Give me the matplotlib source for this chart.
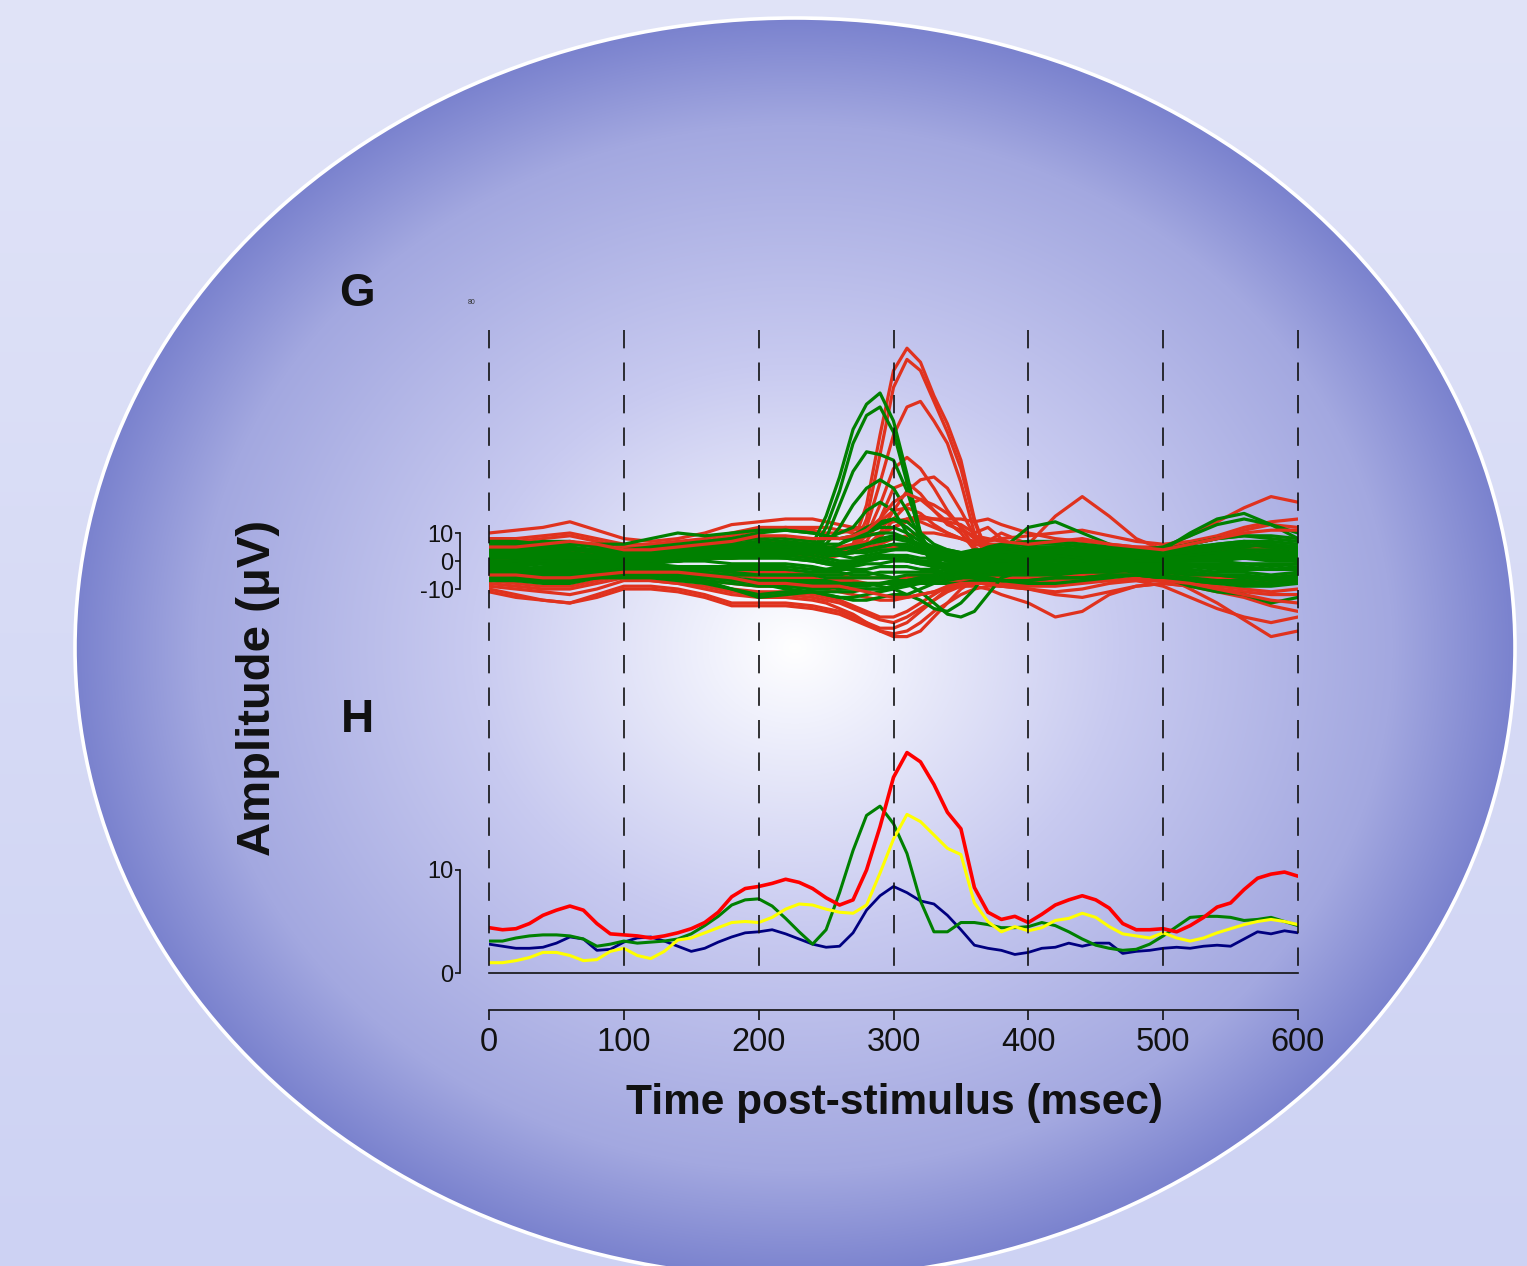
import numpy as np
import matplotlib
matplotlib.use('Agg')
import matplotlib.pyplot as plt
from matplotlib.patches import Ellipse

# ---------------- data ----------------
# Panel H: summary traces, 10 ms steps
t_h = list(range(0, 601, 10))
h_red = [4.4, 4.2, 4.3, 4.8, 5.6, 6.1, 6.5, 6.1, 4.8, 3.8, 3.7, 3.6, 3.4, 3.6, 3.9, 4.3, 4.9, 5.9, 7.4, 8.2,
         8.4, 8.7, 9.1, 8.8, 8.2, 7.3, 6.6, 7.1, 10.0, 14.2, 19.0, 21.4, 20.5, 18.3, 15.6, 14.0, 8.3, 5.9, 5.2, 5.5,
         4.9, 5.7, 6.6, 7.1, 7.5, 7.1, 6.3, 4.8, 4.2, 4.2, 4.3, 4.0, 4.6, 5.4, 6.4, 6.8, 8.1, 9.2, 9.6, 9.8, 9.4]
h_green = [3.1, 3.1, 3.4, 3.6, 3.7, 3.7, 3.6, 3.3, 2.6, 2.8, 3.1, 2.9, 3.0, 3.1, 3.3, 3.8, 4.6, 5.5, 6.6, 7.1,
           7.2, 6.5, 5.3, 4.0, 2.8, 4.2, 7.8, 11.9, 15.3, 16.2, 14.5, 11.6, 7.0, 4.0, 4.0, 4.9, 4.9, 4.7, 4.4, 4.4,
           4.5, 4.9, 4.6, 4.0, 3.3, 2.7, 2.4, 2.2, 2.3, 2.8, 3.6, 4.5, 5.4, 5.5, 5.5, 5.4, 5.1, 5.2, 5.4, 5.0, 4.6]
h_yellow = [1.0, 1.0, 1.2, 1.5, 2.0, 2.0, 1.7, 1.2, 1.3, 2.1, 2.4, 1.7, 1.4, 2.1, 3.2, 3.4, 3.9, 4.4, 4.9, 5.0,
            4.9, 5.4, 6.2, 6.7, 6.6, 6.2, 5.9, 5.8, 6.6, 9.7, 13.0, 15.4, 14.7, 13.4, 12.1, 11.5, 6.8, 5.0, 4.0, 4.5,
            4.1, 4.4, 5.1, 5.3, 5.8, 5.4, 4.5, 3.8, 3.6, 3.4, 3.9, 3.4, 3.1, 3.4, 3.9, 4.3, 4.7, 5.0, 5.2, 5.0, 4.7]
h_navy = [2.8, 2.6, 2.4, 2.4, 2.5, 2.9, 3.5, 3.3, 2.2, 2.3, 3.0, 3.4, 3.5, 3.1, 2.6, 2.1, 2.4, 3.0, 3.5, 3.9,
          4.0, 4.2, 3.8, 3.3, 2.8, 2.5, 2.6, 3.9, 6.1, 7.5, 8.4, 7.8, 7.0, 6.7, 5.6, 4.2, 2.7, 2.4, 2.2, 1.8,
          2.0, 2.4, 2.5, 2.9, 2.6, 2.9, 2.9, 1.9, 2.1, 2.2, 2.4, 2.5, 2.4, 2.6, 2.7, 2.6, 3.3, 4.0, 3.8, 4.1, 3.9]

# Panel G: butterfly traces (µV)
t_g = [0, 20, 40, 60, 80, 100, 120, 140, 160, 180, 200, 220, 240,
       250, 260, 270, 280, 290, 300, 310, 320, 330, 340, 350, 360, 370,
       380, 400, 420, 440, 460, 480, 500, 520, 540, 560, 580, 600]

g_red = [
    [3, 4, 5, 4, 2, 1, 2, 3, 4, 5, 6, 5, 3, 2, 3, 6, 20, 45, 68, 76, 71, 59, 49, 36, 15, 2, -2, 0, 2, 1, -1, 0, 1, 2, 3, 2, 1, 0],
    [-2, -1, 0, 1, 0, -1, 0, 1, 2, 3, 4, 3, 2, 1, 2, 4, 15, 38, 62, 72, 68, 57, 46, 33, 14, 2, -1, 1, 2, 1, 0, -1, 0, 1, 2, 2, 1, 0],
    [1, 1, 2, 2, 1, 1, 1, 2, 3, 4, 5, 4, 3, 2, 3, 4, 12, 28, 45, 55, 57, 50, 42, 28, 10, 0, -2, 0, 1, 1, 0, 0, 1, 2, 2, 1, 1, 0],
    [0, 1, 1, 1, 0, 0, 1, 1, 2, 2, 3, 3, 2, 2, 3, 5, 9, 20, 33, 37, 33, 26, 18, 12, 5, 2, 1, 1, 2, 1, 0, 0, 0, 1, 2, 2, 1, 1],
    [4, 4, 5, 5, 3, 2, 3, 4, 5, 6, 7, 7, 6, 5, 5, 6, 7, 15, 26, 28, 24, 18, 14, 10, 4, 2, 1, 2, 3, 3, 2, 2, 2, 3, 4, 4, 3, 3],
    [2, 2, 3, 3, 2, 1, 1, 2, 3, 4, 5, 5, 4, 4, 4, 5, 6, 8, 15, 20, 22, 20, 17, 12, 8, 7, 10, 6, 3, 2, 2, 2, 2, 3, 4, 4, 4, 3],
    [-1, -1, 0, 0, -1, -1, 0, 0, 1, 1, 2, 2, 2, 3, 3, 4, 6, 9, 12, 15, 16, 15, 14, 13, 10, 12, 8, 3, 1, 0, 0, 0, 0, 1, 2, 2, 2, 1],
    [-8, -9, -10, -10, -8, -6, -7, -8, -10, -12, -13, -13, -14, -15, -17, -19, -22, -25, -27, -27, -25, -20, -15, -10, -7, -5, -5, -5, -4, -3, -3, -4, -5, -6, -7, -7, -7, -6],
    [-10, -12, -14, -15, -12, -9, -9, -10, -12, -15, -15, -15, -16, -17, -18, -20, -22, -24, -24, -22, -18, -14, -10, -8, -7, -6, -6, -7, -7, -6, -5, -5, -6, -7, -8, -8, -8, -7],
    [-7, -8, -9, -9, -7, -5, -5, -6, -8, -10, -11, -11, -12, -13, -14, -16, -18, -20, -20, -18, -15, -12, -9, -6, -5, -4, -4, -5, -5, -4, -4, -3, -4, -5, -6, -6, -6, -5],
    [10, 11, 12, 14, 11, 8, 7, 8, 10, 13, 14, 15, 15, 14, 13, 12, 12, 13, 14, 15, 14, 12, 10, 8, 6, 5, 5, 4, 3, 3, 3, 2, 2, 3, 4, 5, 5, 4],
    [2, 3, 3, 3, 2, 2, 2, 3, 3, 4, 5, 5, 4, 4, 4, 4, 5, 6, 8, 9, 10, 10, 9, 8, 7, 6, 6, 6, 16, 23, 16, 8, 4, 2, 1, 1, 1, 1],
    [0, 0, 1, 1, 0, 0, 0, 1, 1, 2, 2, 2, 2, 2, 3, 3, 4, 5, 5, 5, 4, 4, 3, 3, 3, 3, 3, 4, 4, 4, 4, 4, 5, 9, 14, 19, 23, 21],
    [-3, -3, -3, -2, -2, -2, -2, -3, -3, -4, -4, -4, -5, -5, -5, -6, -6, -6, -6, -6, -5, -5, -5, -5, -5, -5, -6, -6, -6, -5, -5, -4, -5, -10, -15, -21, -27, -25],
    [-4, -4, -5, -5, -4, -3, -4, -4, -5, -5, -6, -6, -6, -7, -7, -7, -8, -8, -8, -8, -7, -7, -7, -7, -7, -7, -8, -9, -9, -8, -7, -7, -9, -13, -17, -20, -22, -20],
    [-6, -6, -7, -7, -6, -5, -5, -6, -7, -8, -9, -9, -9, -10, -11, -12, -13, -14, -14, -13, -12, -11, -10, -9, -9, -10, -12, -15, -20, -18, -12, -9, -8, -9, -10, -11, -12, -12],
    [-11, -13, -14, -15, -13, -10, -10, -11, -13, -16, -16, -16, -17, -18, -19, -21, -23, -25, -26, -25, -22, -18, -15, -12, -10, -9, -9, -8, -8, -7, -7, -6, -7, -8, -9, -10, -11, -10],
    [6, 7, 8, 9, 7, 5, 5, 6, 7, 9, 11, 12, 12, 12, 11, 10, 9, 10, 12, 14, 15, 15, 15, 15, 14, 15, 13, 10, 8, 7, 6, 5, 5, 6, 8, 11, 13, 12],
    [8, 8, 9, 10, 8, 6, 6, 7, 8, 10, 12, 12, 11, 10, 10, 11, 12, 14, 18, 19, 17, 13, 10, 8, 7, 7, 8, 9, 10, 11, 9, 7, 6, 7, 9, 12, 14, 15],
    [-9, -10, -11, -12, -10, -7, -7, -8, -9, -11, -12, -12, -13, -14, -15, -17, -19, -21, -22, -20, -17, -14, -11, -9, -8, -8, -9, -10, -12, -13, -11, -9, -8, -9, -11, -13, -16, -18],
    [1, 1, 1, 2, 1, 0, 1, 1, 2, 3, 3, 3, 2, 2, 3, 3, 5, 10, 18, 25, 29, 30, 26, 18, 9, 4, 2, 1, 1, 1, 1, 0, 0, 1, 1, 1, 1, 1],
    [5, 5, 6, 7, 6, 4, 4, 5, 6, 7, 9, 9, 8, 8, 8, 9, 11, 15, 21, 24, 22, 18, 13, 11, 9, 8, 7, 6, 7, 8, 6, 5, 4, 6, 8, 10, 11, 11],
    [-5, -5, -6, -6, -5, -4, -4, -4, -5, -6, -8, -8, -9, -9, -9, -10, -11, -12, -13, -13, -12, -11, -9, -8, -8, -8, -9, -10, -11, -10, -8, -7, -7, -8, -10, -12, -14, -15],
]

g_green = [
    [7, 7, 6, 6, 5, 4, 5, 6, 7, 8, 9, 8, 7, 6, 6, 8, 10, 12, 12, 10, 7, 5, 4, 3, 3, 4, 5, 6, 6, 5, 5, 4, 4, 6, 8, 9, 8, 7],
    [5, 6, 6, 5, 4, 3, 4, 5, 6, 7, 8, 7, 6, 5, 4, 5, 6, 7, 8, 7, 5, 4, 3, 3, 4, 4, 4, 5, 5, 4, 4, 3, 3, 5, 6, 7, 7, 6],
    [4, 4, 5, 5, 3, 2, 3, 4, 4, 5, 6, 6, 5, 3, 2, 1, 2, 3, 4, 5, 4, 3, 2, 2, 3, 3, 3, 4, 4, 3, 2, 2, 2, 3, 4, 5, 6, 5],
    [3, 3, 3, 2, 2, 2, 3, 3, 4, 4, 4, 3, 2, 1, 0, 0, 1, 2, 2, 2, 1, 1, 1, 2, 2, 2, 2, 3, 3, 2, 2, 1, 1, 2, 3, 4, 4, 3],
    [2, 1, 1, 1, 1, 1, 1, 2, 2, 3, 3, 2, 1, 0, -1, -1, 0, 1, 1, 0, 0, 0, 1, 1, 1, 1, 1, 1, 2, 1, 1, 0, 0, 1, 2, 2, 2, 2],
    [0, 0, 0, 0, 0, 0, 0, 1, 1, 1, 1, 1, 0, -1, -2, -2, -1, -1, 0, 0, -1, -1, -1, 0, 0, 0, 0, 0, 0, 0, 0, 0, 0, 0, 1, 1, 0, 0],
    [-1, -1, -1, -1, 0, 0, -1, 0, 0, -1, -1, -1, -2, -3, -3, -3, -3, -2, -2, -2, -3, -3, -2, -1, -1, -1, -1, -1, -1, -1, -1, -1, -1, -1, -1, -1, -2, -1],
    [-2, -2, -3, -3, -2, -1, -2, -2, -3, -3, -3, -3, -4, -4, -4, -5, -5, -4, -4, -4, -4, -4, -3, -2, -2, -2, -2, -2, -2, -2, -2, -2, -2, -2, -3, -3, -3, -3],
    [-3, -4, -4, -4, -3, -2, -3, -3, -4, -5, -5, -5, -5, -6, -6, -6, -6, -6, -6, -5, -5, -5, -4, -3, -3, -3, -3, -3, -3, -3, -3, -3, -3, -3, -4, -4, -5, -4],
    [-5, -5, -5, -5, -4, -3, -4, -4, -5, -6, -7, -7, -7, -7, -8, -8, -8, -8, -7, -7, -6, -6, -5, -5, -4, -4, -4, -4, -4, -4, -4, -3, -4, -5, -5, -6, -6, -6],
    [-6, -6, -7, -7, -6, -5, -5, -6, -7, -8, -9, -9, -9, -9, -10, -10, -10, -10, -9, -8, -7, -7, -6, -6, -5, -5, -5, -5, -5, -4, -3, -4, -5, -6, -7, -7, -8, -7],
    [-7, -7, -7, -7, -6, -6, -6, -7, -8, -10, -12, -11, -11, -12, -13, -14, -14, -13, -12, -12, -10, -8, -7, -6, -6, -6, -7, -7, -6, -6, -5, -5, -6, -7, -8, -9, -9, -8],
    [6, 6, 7, 7, 5, 4, 4, 5, 6, 8, 10, 11, 10, 9, 8, 9, 11, 13, 15, 14, 10, 6, 4, 3, 3, 5, 6, 7, 6, 5, 4, 4, 5, 9, 13, 15, 13, 10],
    [1, 2, 2, 2, 2, 1, 2, 3, 3, 4, 5, 5, 4, 3, 2, 4, 6, 8, 9, 8, 5, 3, 1, 0, 1, 2, 3, 4, 3, 2, 2, 2, 2, 3, 5, 6, 5, 4],
    [-4, -3, -3, -3, -2, -1, -1, -2, -2, -2, -2, -2, -3, -3, -2, -1, 0, 1, 1, 0, -1, -2, -2, -2, -2, -1, -1, -1, 0, -1, -1, -1, -1, -2, -2, -2, -3, -2],
    [3, 4, 4, 4, 3, 3, 3, 4, 5, 6, 7, 6, 5, 4, 3, 3, 4, 5, 6, 6, 4, 3, 2, 2, 2, 3, 3, 4, 4, 3, 3, 2, 2, 4, 5, 6, 5, 4],
    [-1, 0, 0, -1, -1, -1, 0, 1, 1, 2, 2, 1, 0, -1, -1, 0, 1, 2, 2, 1, 0, -1, -1, -1, 0, 0, 0, 0, 1, 0, 0, -1, -1, 0, 0, 1, 1, 0],
    [-4, -5, -6, -6, -5, -4, -4, -5, -6, -7, -8, -8, -8, -8, -8, -9, -9, -8, -8, -7, -6, -5, -4, -4, -4, -4, -4, -4, -4, -3, -3, -3, -4, -4, -5, -6, -7, -6],
    [5, 5, 4, 4, 4, 3, 3, 4, 5, 6, 6, 5, 4, 3, 3, 3, 4, 5, 6, 5, 3, 2, 2, 2, 3, 3, 3, 4, 4, 4, 3, 3, 3, 4, 6, 7, 6, 5],
    [2, 1, 0, -1, 0, 1, 1, 0, 1, 2, 3, 3, 6, 16, 30, 47, 56, 60, 50, 31, 10, -3, -6, -4, -2, 0, 1, 2, 2, 1, 0, 1, 1, 2, 3, 3, 2, 2],
    [-1, -1, 0, 0, -1, -1, 0, 0, 1, 1, 2, 2, 4, 12, 25, 42, 52, 55, 46, 28, 8, -4, -5, -3, -1, 0, 0, 1, 1, 0, 0, 0, 1, 1, 2, 2, 2, 1],
    [1, 1, 2, 2, 1, 0, 0, 1, 2, 3, 4, 4, 4, 8, 20, 32, 39, 38, 36, 25, 10, 0, -3, -3, -1, 1, 2, 2, 1, 0, -1, 0, 0, 1, 2, 2, 1, 1],
    [0, 0, 1, 1, 1, 1, 1, 1, 2, 2, 3, 3, 3, 6, 12, 20, 26, 29, 26, 18, 8, 1, -2, -2, 0, 1, 2, 3, 2, 1, 0, 0, 1, 2, 3, 3, 2, 2],
    [3, 3, 3, 3, 2, 2, 2, 3, 4, 5, 6, 6, 6, 8, 10, 12, 18, 21, 18, 10, 4, 1, 0, 0, 1, 2, 2, 3, 3, 2, 1, 1, 1, 2, 3, 4, 3, 3],
    [-2, -2, -1, -1, -1, 0, 0, 0, 1, 2, 3, 3, 3, 4, 6, 9, 12, 14, 15, 12, 8, 4, 2, 1, 0, 0, 1, 1, 0, 0, 0, 0, 0, 1, 1, 1, 1, 1],
    [-3, -3, -2, -2, -2, -2, -2, -3, -3, -4, -5, -5, -5, -5, -5, -4, -4, -5, -6, -8, -11, -15, -19, -20, -18, -12, -6, -3, -2, -3, -4, -3, -3, -4, -5, -5, -6, -5],
    [-4, -4, -4, -4, -3, -2, -3, -4, -5, -6, -8, -9, -10, -10, -9, -8, -8, -9, -10, -12, -14, -17, -18, -15, -10, -3, 4, 12, 14, 10, 6, 3, 1, 0, 0, -1, -1, -1],
    [2, 2, 2, 1, 1, 1, 2, 2, 3, 3, 4, 4, 3, 2, 2, 3, 3, 4, 4, 4, 3, 2, 2, 2, 2, 2, 2, 3, 3, 3, 2, 2, 4, 10, 15, 17, 13, 8],
    [-5, -5, -5, -5, -4, -3, -4, -4, -5, -6, -8, -10, -11, -11, -11, -11, -10, -10, -9, -8, -7, -6, -6, -6, -5, -6, -7, -7, -6, -6, -5, -5, -6, -9, -11, -12, -15, -13],
    [-6, -7, -8, -8, -6, -5, -5, -6, -7, -10, -13, -12, -11, -12, -13, -13, -12, -11, -10, -9, -8, -8, -8, -8, -7, -7, -7, -8, -8, -7, -6, -5, -6, -7, -8, -8, -8, -7],
    [5, 5, 6, 6, 6, 6, 8, 10, 9, 10, 11, 11, 10, 9, 8, 8, 9, 10, 10, 8, 6, 4, 3, 3, 3, 4, 5, 7, 7, 6, 5, 4, 4, 6, 8, 9, 9, 8],
]

x_ticks = [0, 100, 200, 300, 400, 500, 600]
g_ticks = [-10, 0, 10]
h_ticks = [0, 10]

# ---------------- figure ----------------
W, H = 1527, 1266
fig = plt.figure(figsize=(W / 100, H / 100), dpi=100)
SANS = ['Liberation Sans', 'DejaVu Sans']
TXT = '#111111'

# background with elliptical radial gradient
ax_bg = fig.add_axes([0, 0, 1, 1])
ax_bg.set_xlim(0, W)
ax_bg.set_ylim(H, 0)
ax_bg.axis('off')
yy, xx = np.mgrid[0:H, 0:W] + 0.5
cx, cy, ea, eb = 795, 648, 720, 630
rr = np.sqrt(((xx - cx) / ea) ** 2 + ((yy - cy) / eb) ** 2)
stops = [0.0, 0.12, 0.45, 0.83, 1.0]
inner = np.dstack([np.interp(rr, stops, [255, 240, 200, 163, 122]),
                   np.interp(rr, stops, [255, 241, 202, 168, 130]),
                   np.interp(rr, stops, [255, 252, 240, 224, 206])])
fv = yy / H
outer = np.dstack([225 - 20 * fv, 228 - 18 * fv, 248 - 5 * fv])
img = np.where((rr <= 1.0)[..., None], inner, outer) / 255.0
ax_bg.imshow(img, extent=(0, W, H, 0), interpolation='bilinear', aspect='auto')
ax_bg.add_patch(Ellipse((cx, cy), 2 * ea, 2 * eb, fill=False, ec='white', lw=2.6))
ax_bg.set_xlim(0, W)
ax_bg.set_ylim(H, 0)


def frac_rect(left_px, top_px, right_px, bottom_px):
    return [left_px / W, 1 - bottom_px / H, (right_px - left_px) / W, (bottom_px - top_px) / H]


def style_left(ax, ticks, lo, hi):
    ax.patch.set_visible(False)
    for s in ('top', 'right', 'bottom'):
        ax.spines[s].set_visible(False)
    ax.spines['left'].set_position(('outward', 20.9))
    ax.spines['left'].set_bounds(lo, hi)
    ax.spines['left'].set_linewidth(1.2)
    ax.spines['left'].set_color(TXT)
    ax.set_yticks(ticks)
    ax.set_yticklabels([str(v) for v in ticks], fontsize=17, family=SANS, color=TXT)
    ax.tick_params(axis='y', direction='out', length=3.6, width=1.2, pad=1.0, colors=TXT)
    ax.set_xticks([])
    ax.set_xlim(0, 600)


# Panel G
ax_g = fig.add_axes(frac_rect(489, 337, 1298, 645))
ax_g.set_ylim(-30, 80)
style_left(ax_g, g_ticks, -10, 10)
kw_g = dict(lw=2.3, solid_joinstyle='round', solid_capstyle='round')
for tr in g_red[:-2]:
    ax_g.plot(t_g, tr, color='#e0321e', **kw_g)
for tr in g_green:
    ax_g.plot(t_g, tr, color='#008000', **kw_g)
for tr in g_red[-2:]:
    ax_g.plot(t_g, tr, color='#e0321e', **kw_g)

# Panel H
ax_h = fig.add_axes(frac_rect(489, 746.4, 1298, 973))
ax_h.set_ylim(0, 22)
style_left(ax_h, h_ticks, 0, 10)
ax_h.spines['bottom'].set_visible(True)
ax_h.spines['bottom'].set_linewidth(1.2)
ax_h.spines['bottom'].set_color(TXT)
kw_h = dict(solid_joinstyle='round', solid_capstyle='round')
ax_h.plot(t_h, h_navy, color='#000080', lw=2.0, **kw_h)
ax_h.plot(t_h, h_green, color='#008000', lw=2.2, **kw_h)
ax_h.plot(t_h, h_yellow, color='#ffff00', lw=2.2, **kw_h)
ax_h.plot(t_h, h_red, color='#ff0000', lw=2.6, **kw_h)

# shared time axis with dashed gridlines
ax_x = fig.add_axes(frac_rect(489, 330, 1298, 1010))
ax_x.patch.set_visible(False)
ax_x.set_xlim(0, 600)
ax_x.set_ylim(0, 1)
for s in ('top', 'right', 'left'):
    ax_x.spines[s].set_visible(False)
ax_x.spines['bottom'].set_linewidth(1.2)
ax_x.spines['bottom'].set_color(TXT)
ax_x.set_yticks([])
ax_x.set_xticks(x_ticks)
ax_x.set_xticklabels([str(v) for v in x_ticks], fontsize=23.5, family=SANS, color=TXT)
ax_x.tick_params(axis='x', direction='out', length=7, width=1.2, pad=5, colors=TXT)
y_bot = (1010 - 972) / 680
for xv in x_ticks:
    # draw from top so the dash pattern starts at the top end
    ax_x.plot([xv, xv], [1.0, y_bot], color=TXT, lw=1.2,
              linestyle=(0, (11.0, 8.5)), clip_on=False)

# labels
fig.text(357 / W, 1 - 294 / H, 'G', fontsize=33, fontweight='bold', family=SANS,
         ha='center', va='center', color=TXT)
fig.text(357 / W, 1 - 720 / H, 'H', fontsize=33, fontweight='bold', family=SANS,
         ha='center', va='center', color=TXT)
fig.text(472 / W, 1 - 303 / H, '80', fontsize=5, family=SANS, ha='center', va='center', color='#333333')
fig.text(258 / W, 1 - 688 / H, 'Amplitude (\u03bcV)', rotation=90, fontsize=34, fontweight='bold',
         family=SANS, ha='center', va='center', color=TXT)
fig.text(895 / W, 1 - 1103 / H, 'Time post-stimulus (msec)', fontsize=30.5, fontweight='bold',
         family=SANS, ha='center', va='center', color=TXT)

fig.savefig('out.png', dpi=100)
